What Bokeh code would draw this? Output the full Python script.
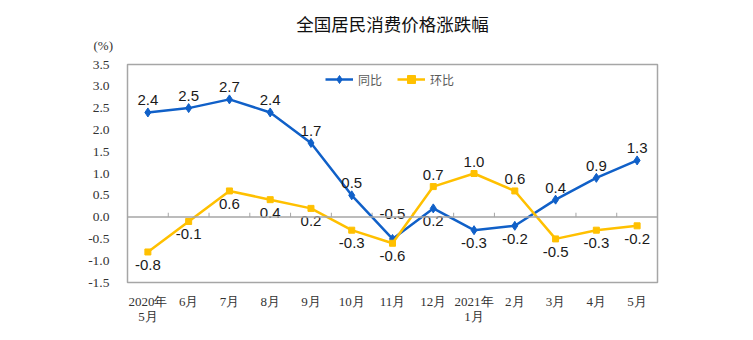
from bokeh.plotting import figure
from bokeh.models import (FixedTicker, Span, Title, Legend, LegendItem, Range1d, ColumnDataSource)
from bokeh.core.properties import value
from bokeh.embed import file_html
from bokeh.resources import INLINE

months = ["2020年\n5月", "6月", "7月", "8月", "9月", "10月", "11月", "12月",
          "2021年\n1月", "2月", "3月", "4月", "5月"]
yoy = [2.4, 2.5, 2.7, 2.4, 1.7, 0.5, -0.5, 0.2, -0.3, -0.2, 0.4, 0.9, 1.3]
mom = [-0.8, -0.1, 0.6, 0.4, 0.2, -0.3, -0.6, 0.7, 1.0, 0.6, -0.5, -0.3, -0.2]
# label placement: a = above, A = far above, b = below
yoy_place = ["a", "a", "a", "a", "a", "a", "A", "b", "b", "b", "a", "a", "a"]
mom_place = ["b", "b", "b", "b", "b", "b", "b", "a", "a", "a", "b", "b", "b"]
y_ticks = [-1.5, -1.0, -0.5, 0.0, 0.5, 1.0, 1.5, 2.0, 2.5, 3.0, 3.5]

BLUE = "#1060C8"
YELLOW = "#FFC000"
GRAY = "#A6A6A6"

n = len(months)
xs = [i + 0.5 for i in range(n)]

p = figure(width=753, height=340, output_backend="svg", toolbar_location=None,
           x_range=Range1d(0, n), y_range=Range1d(-1.5, 3.5),
           min_border_left=127, min_border_right=96, min_border_top=64, min_border_bottom=58)
p.xgrid.visible = False
p.ygrid.visible = False
p.outline_line_color = GRAY
p.outline_line_width = 1.5
p.background_fill_color = "white"
p.border_fill_color = "white"

# title
p.title.text = "全国居民消费价格涨跌幅"
p.title.align = "center"
p.title.text_font = "Noto Sans CJK SC"
p.title.text_font_size = "17.5px"
p.title.text_font_style = "normal"
p.title.text_color = "#111111"
p.title.standoff = -24

# unit label
p.add_layout(Title(text="(%)", align="left", offset=-34, standoff=24,
                   text_font="Liberation Serif", text_font_size="13px",
                   text_font_style="normal", text_color="#333333"), "above")

# axes
p.yaxis.ticker = FixedTicker(ticks=y_ticks)
p.yaxis.major_label_overrides = {t: f"{t:.1f}" for t in y_ticks}
p.yaxis.axis_line_color = None
p.yaxis.major_tick_line_color = None
p.yaxis.minor_tick_line_color = None
p.yaxis.major_label_standoff = 12
p.yaxis.major_label_text_font = "Liberation Serif"
p.yaxis.major_label_text_font_size = "13.5px"
p.yaxis.major_label_text_color = "#333333"

p.xaxis.ticker = FixedTicker(ticks=xs)
p.xaxis.major_label_overrides = {x: m for x, m in zip(xs, months)}
p.xaxis.axis_line_color = None
p.xaxis.major_tick_line_color = None
p.xaxis.minor_tick_line_color = None
p.xaxis.major_label_standoff = 5
p.xaxis.major_label_text_font = "Liberation Serif"
p.xaxis.major_label_text_font_size = "13px"
p.xaxis.major_label_text_color = "#333333"
p.xaxis.major_label_text_line_height = 1.0

# zero line and its ticks
p.add_layout(Span(location=0, dimension="width", line_color=GRAY, line_width=1.5))
bounds = list(range(1, n))
p.segment(x0=bounds, y0=[0] * len(bounds), x1=bounds, y1=[0.1] * len(bounds),
          line_color=GRAY, line_width=1)

# series
bl = p.line(xs, yoy, line_color=BLUE, line_width=2.5)
bm = p.scatter(xs, yoy, marker="diamond", size=9, fill_color=BLUE, line_color=BLUE)
yl = p.line(xs, mom, line_color=YELLOW, line_width=2.5)
ym = p.scatter(xs, mom, marker="square", size=6, fill_color=YELLOW, line_color=YELLOW)

def add_labels(vals, places):
    for pl, base, off in (("a", "bottom", -7), ("A", "bottom", -20), ("b", "top", 8)):
        idx = [i for i in range(n) if places[i] == pl]
        if not idx:
            continue
        src = ColumnDataSource(dict(x=[xs[i] for i in idx], y=[vals[i] for i in idx],
                                    t=[f"{vals[i]:.1f}" for i in idx]))
        p.text(x="x", y="y", text="t", source=src, text_align="center",
               text_baseline=base, y_offset=off, text_font=value("Liberation Sans"),
               text_font_size="15px", text_color="#1a1a1a")

add_labels(yoy, yoy_place)
add_labels(mom, mom_place)

legend = Legend(items=[LegendItem(label="同比", renderers=[bl, bm]),
                       LegendItem(label="环比", renderers=[yl, ym])],
                orientation="horizontal", location=(198, 193))
legend.border_line_color = None
legend.background_fill_alpha = 0
legend.padding = 0
legend.margin = 0
legend.spacing = 15
legend.glyph_width = 28
legend.label_standoff = 5
legend.label_text_font = "Noto Sans CJK SC"
legend.label_text_font_size = "12px"
legend.label_text_color = "#595959"
p.add_layout(legend)

open("out.html", "w").write(file_html(p, INLINE))
